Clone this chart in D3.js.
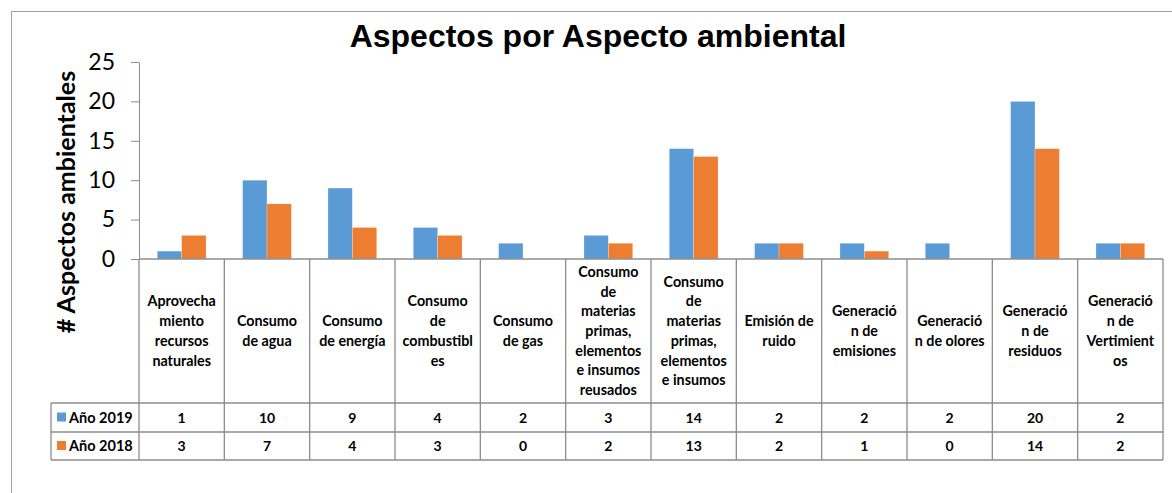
<!DOCTYPE html>
<html>
<head>
<meta charset="utf-8">
<script src="https://cdn.jsdelivr.net/npm/d3@7"></script>
<style>
  body { margin: 0; background: #fff; }
  svg { display: block; }
</style>
</head>
<body>
<script>
// data
var categories = [
  "Aprovecha\nmiento\nrecursos\nnaturales",
  "Consumo\nde agua",
  "Consumo\nde energía",
  "Consumo\nde\ncombustibl\nes",
  "Consumo\nde gas",
  "Consumo\nde\nmaterias\nprimas,\nelementos\ne insumos\nreusados",
  "Consumo\nde\nmaterias\nprimas,\nelementos\ne insumos",
  "Emisión de\nruido",
  "Generació\nn de\nemisiones",
  "Generació\nn de olores",
  "Generació\nn de\nresiduos",
  "Generació\nn de\nVertimient\nos"
];
var seriesNames = ["Año 2019", "Año 2018"];
var values2019 = [1, 10, 9, 4, 2, 3, 14, 2, 2, 2, 20, 2];
var values2018 = [3, 7, 4, 3, 0, 2, 13, 2, 1, 0, 14, 2];
var colors = ["#5B9BD5", "#ED7D31"];
var yTicks = [0, 5, 10, 15, 20, 25];

var W = 1172, H = 493;
var plot = { left: 139, right: 1163, top: 62, bottom: 259 };
var table = { headBottom: 403, row1: 432, row2: 460, legendLeft: 51 };
var lineCol = "#8c8c8c";
var font = "Lato, 'Open Sans', sans-serif";

var svg = d3.select("body").append("svg")
  .attr("width", W).attr("height", H);

// outer chart border (only top/left visible)
svg.append("rect")
  .attr("x", 11.5).attr("y", 11.5)
  .attr("width", W + 20).attr("height", H + 20)
  .attr("fill", "none").attr("stroke", "#a0a0a0").attr("stroke-width", 1);

var x = d3.scaleBand().domain(d3.range(categories.length))
  .range([plot.left, plot.right]).padding(0);
var x1 = d3.scaleBand().domain(d3.range(seriesNames.length))
  .range([0, x.bandwidth()]).paddingInner(0).paddingOuter(0.75);
var y = d3.scaleLinear().domain([0, 25]).range([plot.bottom, plot.top]);

// title
svg.append("text")
  .attr("x", 598).attr("y", 47)
  .attr("text-anchor", "middle")
  .style("font-family", "'Liberation Sans', Arial, sans-serif")
  .style("font-weight", "bold").style("font-size", "32px")
  .text("Aspectos por Aspecto ambiental");

// y axis
var yAxis = d3.axisLeft(y).tickValues(yTicks).tickSize(8).tickSizeOuter(0).tickPadding(16);
var gy = svg.append("g").attr("transform", "translate(" + plot.left + ",0)").call(yAxis);
gy.select(".domain").attr("stroke", lineCol);
gy.selectAll(".tick line").attr("stroke", lineCol);
gy.selectAll(".tick text")
  .style("font-family", font).style("font-size", "23px").attr("fill", "#000");

svg.append("text")
  .attr("transform", "translate(75," + 202 + ") rotate(-90)")
  .attr("text-anchor", "middle")
  .style("font-family", font).style("font-weight", "bold").style("font-size", "25px")
  .text("# Aspectos ambientales");

// bars
var allValues = [values2019, values2018];
var groups = svg.append("g").selectAll("g")
  .data(allValues).enter().append("g")
  .attr("fill", function(d, i) { return colors[i]; });
groups.each(function(vals, si) {
  d3.select(this).selectAll("rect")
    .data(vals).enter().append("rect")
    .attr("x", function(d, i) { return x(i) + x1(si); })
    .attr("y", function(d) { return y(d); })
    .attr("width", x1.bandwidth())
    .attr("height", function(d) { return y(0) - y(d); })
    .attr("stroke", "#fff").attr("stroke-opacity", 0.4).attr("stroke-width", 0.6);
});

// data table grid
var grid = svg.append("g").attr("stroke", lineCol).attr("stroke-width", 1.3);
grid.append("line").attr("x1", plot.left).attr("x2", plot.right).attr("y1", plot.bottom).attr("y2", plot.bottom);
[table.headBottom, table.row1, table.row2].forEach(function(yy) {
  grid.append("line").attr("x1", table.legendLeft).attr("x2", plot.right).attr("y1", yy).attr("y2", yy);
});
grid.append("line").attr("x1", table.legendLeft).attr("x2", table.legendLeft)
  .attr("y1", table.headBottom).attr("y2", table.row2);
d3.range(categories.length + 1).forEach(function(i) {
  var xx = i < categories.length ? x(i) : plot.right;
  grid.append("line").attr("x1", xx).attr("x2", xx).attr("y1", plot.bottom).attr("y2", table.row2);
});

// category labels
var lh = 19.7;
var headMid = (plot.bottom + table.headBottom) / 2;
categories.forEach(function(c, i) {
  var lines = c.split("\n");
  var t = svg.append("text")
    .attr("text-anchor", "middle")
    .style("font-family", font).style("font-weight", "bold").style("font-size", "14.3px");
  lines.forEach(function(l, k) {
    t.append("tspan")
      .attr("x", x(i) + x.bandwidth() / 2)
      .attr("y", headMid + (k - (lines.length - 1) / 2) * lh + 5)
      .text(l);
  });
});

// value rows + legend keys
var rowMids = [(table.headBottom + table.row1) / 2, (table.row1 + table.row2) / 2];
allValues.forEach(function(vals, si) {
  svg.append("g").selectAll("text")
    .data(vals).enter().append("text")
    .attr("x", function(d, i) { return x(i) + x.bandwidth() / 2; })
    .attr("y", rowMids[si] + 5)
    .attr("text-anchor", "middle")
    .style("font-family", font).style("font-weight", "bold").style("font-size", "14px")
    .text(function(d) { return d; });
  svg.append("rect")
    .attr("x", 57).attr("y", rowMids[si] - 5)
    .attr("width", 9).attr("height", 9)
    .attr("fill", colors[si]);
  svg.append("text")
    .attr("x", 69).attr("y", rowMids[si] + 5)
    .style("font-family", font).style("font-weight", "bold").style("font-size", "14.5px")
    .text(seriesNames[si]);
});
</script>
</body>
</html>
